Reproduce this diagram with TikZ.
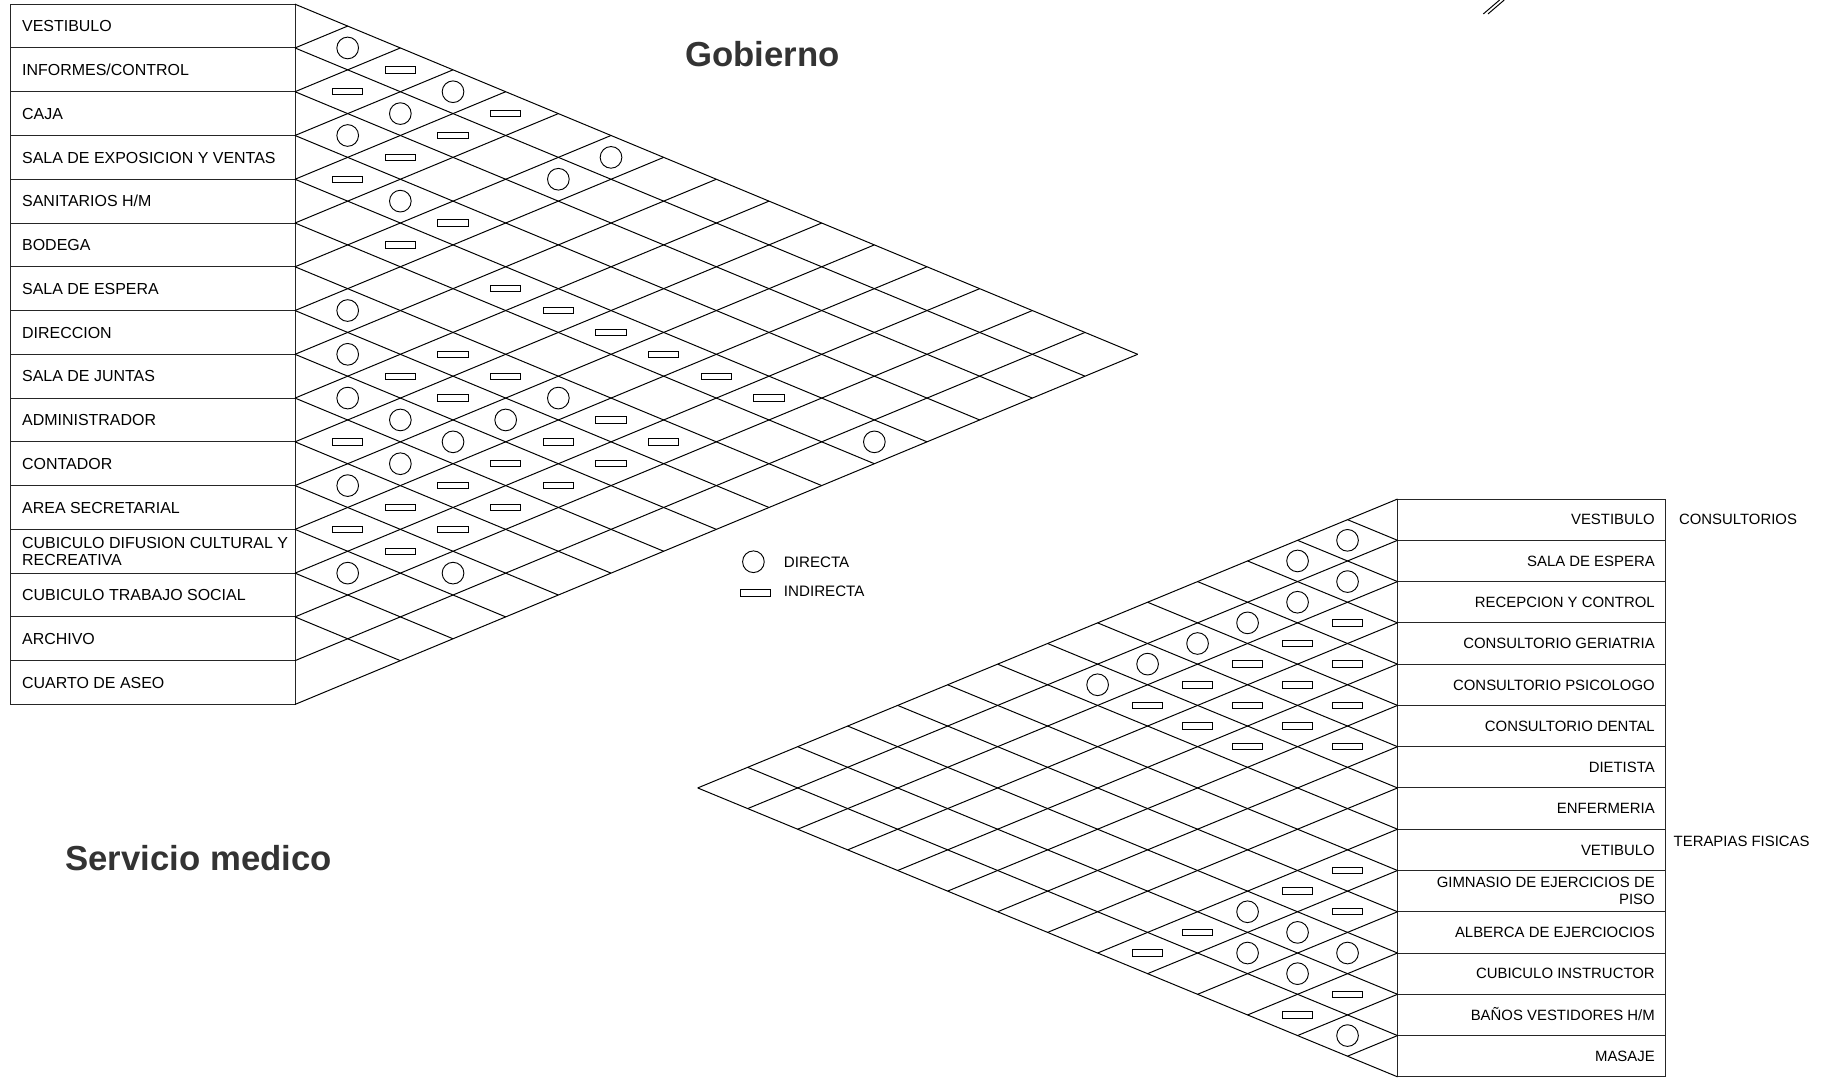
\documentclass[tikz,border=0pt]{standalone}
\usepackage{fontspec}
\setmainfont{Liberation Sans}
\begin{document}
\begin{tikzpicture}[x=1pt, y=-1pt, line width=0.85pt,
    directa/.style={draw, circle, inner sep=0pt, minimum size=18.6pt, line width=0.8pt},
    indirecta/.style={draw, rectangle, inner sep=0pt, minimum width=26pt, minimum height=5.5pt, line width=0.8pt},
    etqg/.style={font=\fontsize{13.7}{15}\selectfont, inner sep=0pt, text height=9.8pt, text depth=0pt, anchor=west},
    etqs/.style={font=\fontsize{12.8}{15}\selectfont, inner sep=0pt, text height=9.1pt, text depth=0pt, anchor=east},
    etql/.style={font=\fontsize{13}{15}\selectfont, inner sep=0pt, text height=9.3pt, text depth=0pt, anchor=west},
    titulo/.style={font=\fontsize{29.8}{34}\selectfont\bfseries, text=black!80, inner sep=0pt, anchor=base}]

\useasboundingbox (0,0) rectangle (1568,925);

%% === MATRIZ SUPERIOR: Gobierno (16 locales) ===
\begin{scope}[shift={(253.2,3.6)}, x=45.2pt, y=-18.78pt]

%% Casillas de nombres
\draw[black!85] (-5.394,0) rectangle (0,32);
\foreach \k in {1,...,15} \draw[black!85] (-5.394,2*\k) -- (0,2*\k);

%% Reticula diagonal
\foreach \k in {0,...,14} \draw (0,2*\k) -- (16-\k,16+\k);
\foreach \k in {1,...,16} \draw (0,2*\k) -- (\k,\k);

%% Relacion directa (circulo) en la casilla (a,b)
\foreach \a/\b in {0/1,0/3,1/3,2/3,0/6,1/6,3/5,6/7,7/8,6/11,8/9,8/10,7/11,
                   8/11,4/15,9/11,10/11,12/13,11/14}
    \node[directa] (gd-\a-\b) at (\b-\a,\a+\b+1) {};

%% Relacion indirecta (rectangulo)
\foreach \a/\b in {0/2,1/2,0/4,1/4,2/4,3/4,3/6,4/6,4/8,4/9,4/10,6/9,4/11,7/9,
                   6/10,4/12,7/10,4/13,6/12,9/10,7/12,6/13,8/12,7/13,9/12,8/13,
                   10/12,9/13,11/12,10/13,11/13}
    \node[indirecta] (gi-\a-\b) at (\b-\a,\a+\b+1) {};

\foreach \k/\t in {0/VESTIBULO,1/{INFORMES/CONTROL},2/CAJA,
                   3/SALA DE EXPOSICION Y VENTAS,4/{SANITARIOS H/M},5/BODEGA,
                   6/SALA DE ESPERA,7/DIRECCION,8/SALA DE JUNTAS,9/ADMINISTRADOR,
                   10/CONTADOR,11/AREA SECRETARIAL,13/CUBICULO TRABAJO SOCIAL,
                   14/ARCHIVO,15/CUARTO DE ASEO}
    \node[etqg] (g\k) at (-5.19,2*\k+1) {\t};
\node[font=\fontsize{13.7}{15}\selectfont, inner sep=0pt, align=left, anchor=west]
    (g12) at (-5.19,25) {CUBICULO DIFUSION CULTURAL Y\\RECREATIVA};

\end{scope}

%% === MATRIZ INFERIOR: Servicio medico (14 locales, espejada) ===
\begin{scope}[shift={(1199.4,428.3)}, x=-42.9pt, y=-17.71pt]

\draw[black!85] (-5.357,0) rectangle (0,28);
\foreach \k in {1,...,13} \draw[black!85] (-5.357,2*\k) -- (0,2*\k);

\foreach \k in {0,...,13} \draw (0,2*\k) -- (14-\k,14+\k);
\foreach \k in {1,...,14} \draw (0,2*\k) -- (\k,\k);

\foreach \a/\b in {0/1,0/2,1/2,1/3,1/4,1/5,1/6,1/7,8/11,9/11,9/12,10/11,
                   10/12,12/13}
    \node[directa] (sd-\a-\b) at (\b-\a,\a+\b+1) {};

\foreach \a/\b in {2/3,2/4,2/5,3/4,2/6,3/5,2/7,3/6,4/5,3/7,4/6,4/7,5/6,
                   8/9,8/10,9/10,8/12,8/13,11/12,11/13}
    \node[indirecta] (si-\a-\b) at (\b-\a,\a+\b+1) {};

\foreach \k/\t in {0/VESTIBULO,1/SALA DE ESPERA,2/RECEPCION Y CONTROL,
                   3/CONSULTORIO GERIATRIA,4/CONSULTORIO PSICOLOGO,
                   5/CONSULTORIO DENTAL,6/DIETISTA,7/ENFERMERIA,8/VETIBULO,
                   10/ALBERCA DE EJERCIOCIOS,11/CUBICULO INSTRUCTOR,
                   12/{BAÑOS VESTIDORES H/M},13/MASAJE}
    \node[etqs] (s\k) at (-5.156,2*\k+1) {\t};
\node[font=\fontsize{12.8}{15}\selectfont, inner sep=0pt, align=right, anchor=east]
    (s9) at (-5.156,19) {GIMNASIO DE EJERCICIOS DE\\PISO};

%% Grupos
\node[etqs, anchor=west] (consult) at (-5.622,1) {CONSULTORIOS};
\node[etqs, anchor=west] (terap) at (-5.515,16.6) {TERAPIAS FISICAS};

\end{scope}

%% === SIMBOLOGIA ===
\node[directa] (leyd) at (646.6,482.1) {};
\node[etql] (txtd) at (672.4,482.4) {DIRECTA};
\node[indirecta] (leyi) at (648.1,508.8) {};
\node[etql] (txti) at (672.4,507) {INDIRECTA};

%% Titulos
\node[titulo] (gob) at (654.5,57.2) {Gobierno};
\node[titulo] (serv) at (170.5,747) {Servicio medico};

%% Marca de corte arriba
\draw (1273,12) -- (1287,0);
\draw (1277,12) -- (1291,0);

\end{tikzpicture}
\end{document}
